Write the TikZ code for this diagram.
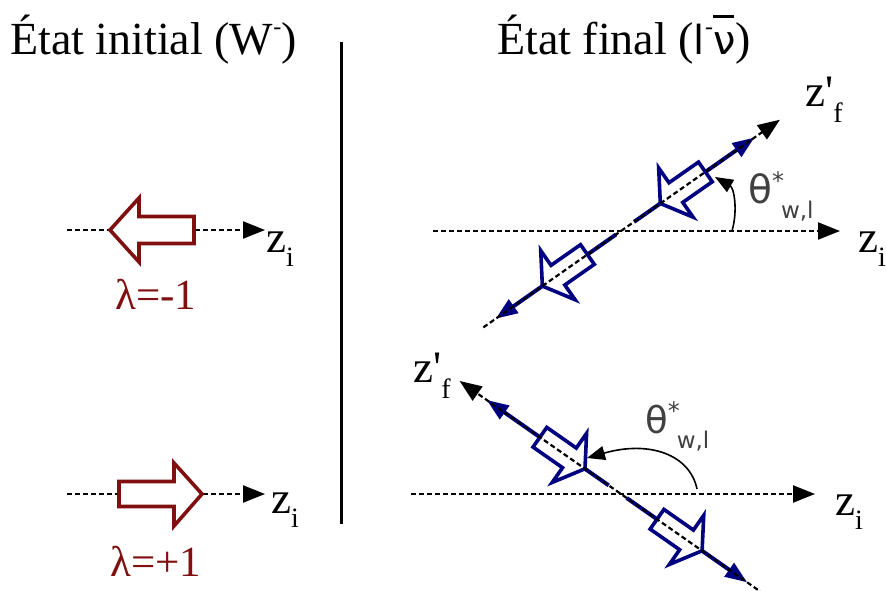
\documentclass[tikz,border=0pt]{standalone}
\usepackage{fontspec}
\setmainfont{Liberation Serif}
\newfontfamily\dejavu{DejaVu Sans}
\usetikzlibrary{arrows.meta}
\definecolor{darkred}{RGB}{128,16,16}
\definecolor{navyb}{RGB}{0,0,128}
\definecolor{thgray}{RGB}{64,64,64}
\newcommand\fsz[1]{\fontsize{#1}{#1}\selectfont}
\newcommand\zsub[1]{z\raisebox{-14pt}{\fsz{28}#1}}
\newcommand\zprime[1]{z\textquotesingle\raisebox{-16pt}{\fsz{28}#1}}
\newcommand\thlab{θ\raisebox{14pt}{\fsz{24}*}\hspace{-3pt}\raisebox{-15pt}{\fsz{23}w,l}}
\begin{document}
\begin{tikzpicture}[x=1pt,y=-1pt,
  dotline/.style={line width=2.2pt, dash pattern=on 5pt off 3pt},
  blk/.style={-{Triangle[length=22pt,width=17pt]}},
  smallblk/.style={line width=1.6pt,-{Triangle[length=18pt,width=14pt]}},
  redarrow/.style={draw=darkred, line width=3.6pt, fill=white, line join=miter},
  bluearrow/.style={draw=navyb, line width=3.6pt, fill=white, line join=miter},
  blueline/.style={draw=navyb, line width=4pt, -{Triangle[length=22pt,width=16pt]}},
  lbl/.style={inner sep=0pt, anchor=base west},
]
\useasboundingbox (0,0) rectangle (886,591);
\fill[white] (0,0) rectangle (886,591);

% titles
\node[lbl, font=\fsz{46}] (t1) at (10,55) {État initial (W\raisebox{20pt}{\fsz{24}-})};
\node[lbl, font=\fsz{46}] (t2) at (497,55) {État final ({\dejavu\fsz{40}l}\raisebox{20pt}{\fsz{24}-}{\dejavu\fsz{40}\rlap{\rule[37pt]{21pt}{2.5pt}}ν})};

% divider
\coordinate (d1) at (341,42);
\coordinate (d2) at (341,524);
\draw[line width=3pt] (d1) -- (d2);

% left: initial state
\coordinate (la1) at (67,230);
\coordinate (la2) at (265,230);
\draw[dotline, blk] (la1) -- (la2);
\draw[redarrow] (110,230) -- (139,198) -- (139,216.5) -- (194,216.5) -- (194,243.5) -- (139,243.5) -- (139,262) -- cycle;
\node[lbl, font=\fsz{45}] (zi1) at (266,252) {\zsub{i}};
\node[lbl, font=\fsz{43}, text=darkred] (lam1) at (115,309) {λ=-1};

\coordinate (lb1) at (67,494);
\coordinate (lb2) at (265,494);
\draw[dotline, blk] (lb1) -- (lb2);
\draw[redarrow] (202,494) -- (174,463) -- (174,481.5) -- (119,481.5) -- (119,506.5) -- (174,506.5) -- (174,526) -- cycle;
\node[lbl, font=\fsz{45}] (zi2) at (271,513) {\zsub{i}};
\node[lbl, font=\fsz{43}, text=darkred] (lam2) at (110,576) {λ=+1};

% right top
\coordinate (ra1) at (433,231);
\coordinate (ra2) at (840,231);
\draw[dotline, blk] (ra1) -- (ra2);
\begin{scope}[shift={(621,231)}, rotate=35]
  \coordinate (tb1) at (16,0);   \coordinate (tb2) at (163,0);
  \coordinate (tb3) at (-6,0);   \coordinate (tb4) at (-153,0);
  \draw[blueline] (tb1) -- (tb2);
  \draw[blueline] (tb3) -- (tb4);
  \draw[bluearrow] (48,0) -- ++(19,-30) -- ++(0,18) -- ++(36,0) -- ++(0,24) -- ++(-36,0) -- ++(0,18) -- cycle;
  \draw[bluearrow] (-96,0) -- ++(19,-30) -- ++(0,18) -- ++(36,0) -- ++(0,24) -- ++(-36,0) -- ++(0,18) -- cycle;
  \coordinate (td1) at (-168,0); \coordinate (td2) at (194,0);
  \draw[dotline, blk] (td1) -- (td2);
\end{scope}
\coordinate (arcA1) at (732,231);
\coordinate (arcA2) at (715,177);
\draw[smallblk] (arcA1) .. controls (738,210) and (734,188) .. (arcA2);
\node[lbl, font=\fsz{45}] (zi3) at (858,252) {\zsub{i}};
\node[lbl, font=\fsz{45}] (zf1) at (805,107) {\zprime{f}};
\node[lbl, font=\dejavu\fsz{39}, text=thgray] (th1) at (748,203) {\thlab};

% right bottom
\coordinate (rb1) at (411,494);
\coordinate (rb2) at (815,494);
\draw[dotline, blk] (rb1) -- (rb2);
\begin{scope}[shift={(621,494)}, rotate=145]
  \coordinate (bb1) at (15,0);   \coordinate (bb2) at (164,0);
  \coordinate (bb3) at (-7,0);   \coordinate (bb4) at (-154,0);
  \draw[blueline] (bb1) -- (bb2);
  \draw[blueline] (bb3) -- (bb4);
  \draw[bluearrow] (44,0) -- ++(19,-30) -- ++(0,18) -- ++(36,0) -- ++(0,24) -- ++(-36,0) -- ++(0,18) -- cycle;
  \draw[bluearrow] (-99,0) -- ++(19,-30) -- ++(0,18) -- ++(36,0) -- ++(0,24) -- ++(-36,0) -- ++(0,18) -- cycle;
  \coordinate (bd1) at (-175,0); \coordinate (bd2) at (197,0);
  \draw[dotline, blk] (bd1) -- (bd2);
\end{scope}
\coordinate (arcB1) at (697,489);
\coordinate (arcB2) at (587,458);
\draw[smallblk] (arcB1) .. controls (690,455) and (650,440) .. (arcB2);
\node[lbl, font=\fsz{45}] (zi4) at (835,515) {\zsub{i}};
\node[lbl, font=\fsz{45}] (zf2) at (413,382) {\zprime{f}};
\node[lbl, font=\dejavu\fsz{37}, text=thgray] (th2) at (645,433) {\thlab};
\end{tikzpicture}
\end{document}
